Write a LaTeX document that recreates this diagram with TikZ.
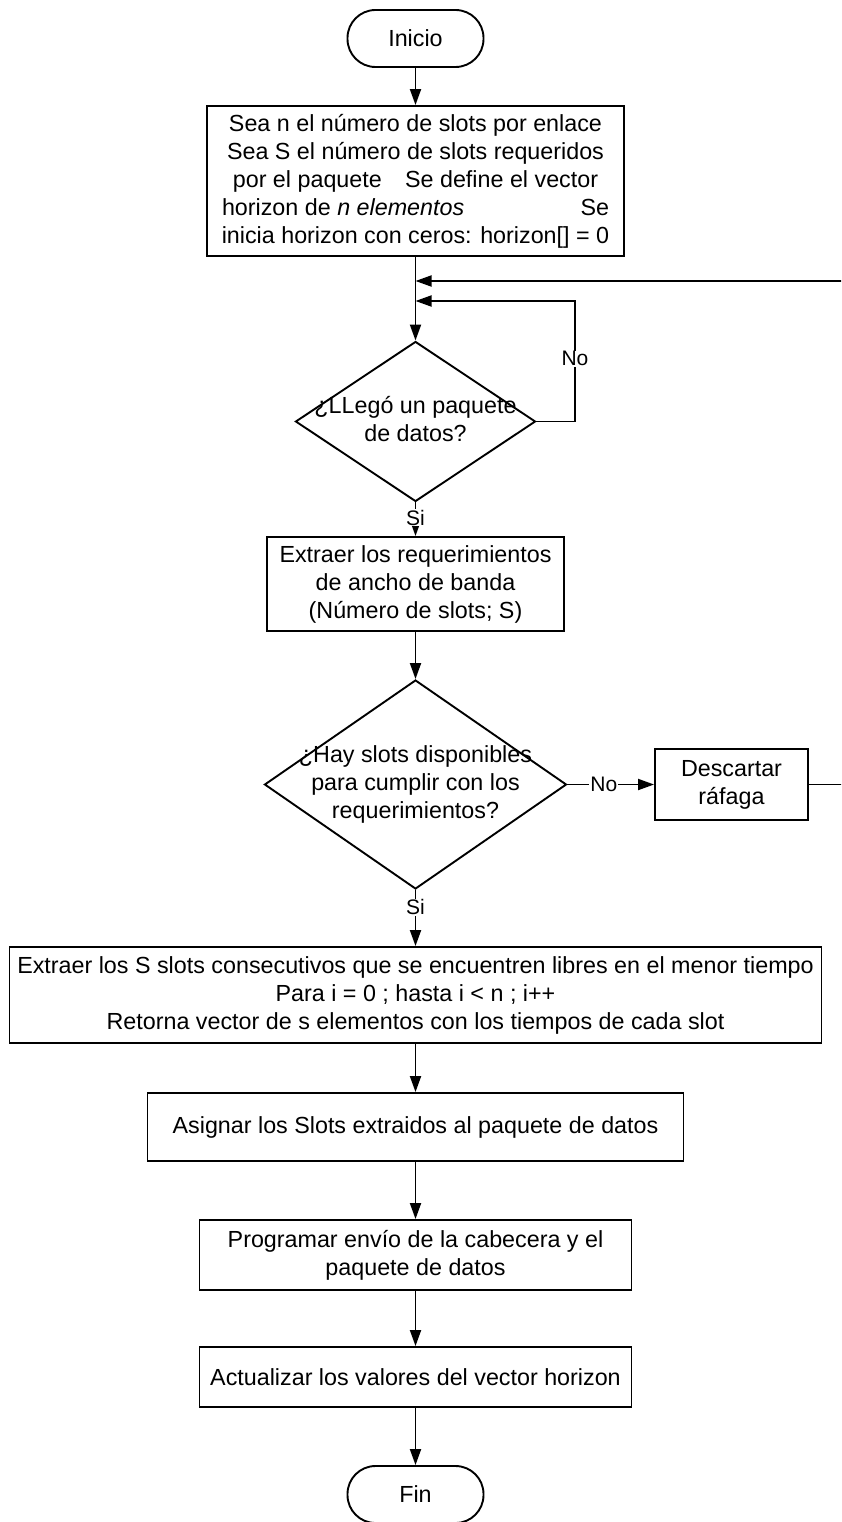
\documentclass[tikz,border=0pt]{standalone}
\usepackage{fontspec}
\setmainfont{Liberation Sans}
\usetikzlibrary{shapes.geometric,arrows.meta}
\newcommand\qtext[1]{\makebox[0pt]{\begin{tabular}{@{}c@{}}#1\end{tabular}}}
\begin{document}
\begin{tikzpicture}[x=1pt, y=-1pt,
  every node/.style={font=\fontsize{23.3}{28}\selectfont},
  base/.style={draw, line width=1.9pt, inner sep=0pt, align=center},
  terminal/.style={base, rounded corners=28pt, minimum width=136pt, minimum height=57pt},
  process/.style={base, rectangle},
  decision/.style={base, diamond},
  arr/.style={line width=1.9pt, -{Triangle[length=16pt,width=11pt]}},
  lbl/.style={fill=white, inner sep=1pt, font=\fontsize{21}{25}\selectfont}]
\useasboundingbox (0,0) rectangle (841,1522);
\clip (0,0) rectangle (841,1522);
\node[terminal] (inicio) at (415.5,38.5) {Inicio};
\node[process, minimum width=417pt, minimum height=150pt] (init) at (415.5,181) {Sea n el número de slots por enlace\\ Sea S el número de slots requeridos\\ por el paquete\quad Se define el vector\\ \makebox[387pt]{horizon de \textit{n elementos}\hfill Se}\\ inicia horizon con ceros: horizon{[]} = 0};
\node[decision, minimum width=240pt, minimum height=160pt] (llego) at (415.5,421.5) {\qtext{¿LLegó un paquete\\ de datos?}};
\node[process, minimum width=297pt, minimum height=94pt] (extraer) at (415.5,584) {Extraer los requerimientos\\ de ancho de banda\\ (Número de slots; S)};
\node[decision, minimum width=302pt, minimum height=209pt] (hay) at (415.5,784.5) {\qtext{¿Hay slots disponibles\\ para cumplir con los\\ requerimientos?}};
\node[process, minimum width=153pt, minimum height=71pt] (descartar) at (731.5,784.5) {Descartar\\ ráfaga};
\node[process, minimum width=812pt, minimum height=96pt] (buscar) at (415.5,995) {Extraer los S slots consecutivos que se encuentren libres en el menor tiempo\\ Para i = 0 ; hasta i < n ; i++\\ Retorna vector de s elementos con los tiempos de cada slot};
\node[process, minimum width=536pt, minimum height=68pt] (asignar) at (415.5,1127) {Asignar los Slots extraidos al paquete de datos};
\node[process, minimum width=432pt, minimum height=70pt] (programar) at (415.5,1255) {Programar envío de la cabecera y el\\ paquete de datos};
\node[process, minimum width=432pt, minimum height=60pt] (actualizar) at (415.5,1377) {Actualizar los valores del vector horizon};
\node[terminal] (fin) at (415.5,1494.5) {Fin};
\coordinate (noturn) at (575,301);
\coordinate (back) at (860,281);
\draw[arr] (inicio) -- (init);
\draw[arr] (init) -- (llego);
\draw[arr] (llego.east) -| node[lbl, pos=0.76]{No} (noturn) -- (llego.north |- noturn);
\draw[arr] (llego) -- node[lbl, pos=0.45]{Si} (extraer);
\draw[arr] (extraer) -- (hay);
\draw[arr] (hay) -- node[lbl, pos=0.42]{No} (descartar);
\draw[arr] (descartar.east) -| (back) -- (llego.north |- back);
\draw[arr] (hay) -- node[lbl, pos=0.31]{Si} (buscar);
\draw[arr] (buscar) -- (asignar);
\draw[arr] (asignar) -- (programar);
\draw[arr] (programar) -- (actualizar);
\draw[arr] (actualizar) -- (fin);
\end{tikzpicture}
\end{document}
